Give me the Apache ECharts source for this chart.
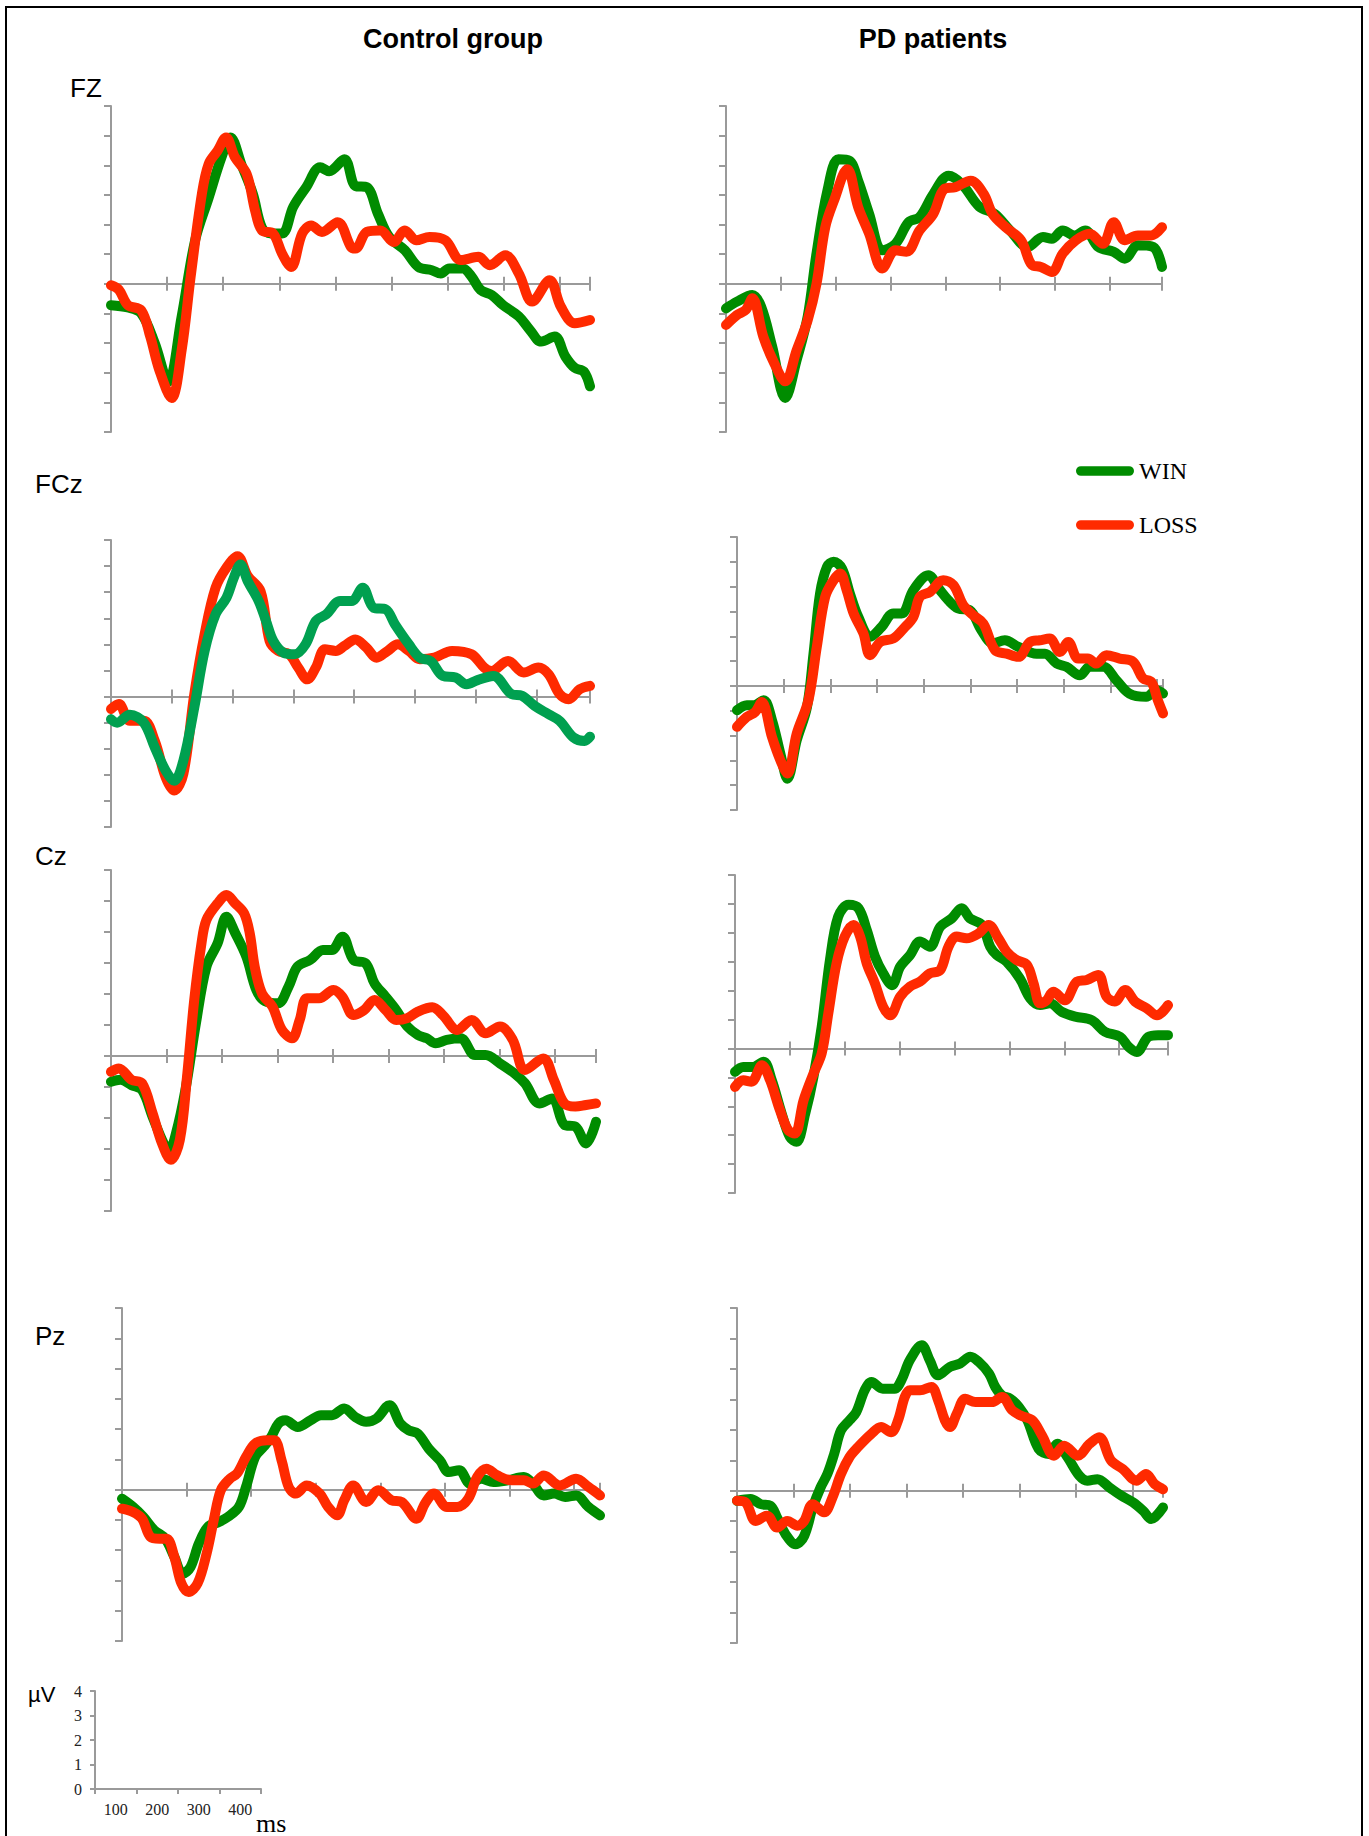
<!DOCTYPE html>
<html><head><meta charset="utf-8">
<script src="https://cdn.jsdelivr.net/npm/echarts@6/dist/echarts.min.js"></script>
<style>html,body{margin:0;padding:0;background:#fff}#c{width:1369px;height:1836px}</style>
</head><body><div id="c"></div>
<script>
// ---- Data: [time (ms), amplitude (µV)] ----
const fzCtrlWin = [[0,-0.72],[30,-0.8],[54,-1.0],[78,-2.0],[102,-3.3],[126,-1.1],[150,1.47],[174,2.9],[197,4.27],[213,4.94],[233,4.0],[253,3.03],[269,1.9],[285,1.7],[305,1.7],[325,2.6],[348,3.26],[373,3.93],[389,3.8],[416,4.2],[436,3.3],[456,3.26],[476,2.36],[496,1.58],[524,1.13],[548,0.57],[572,0.46],[588,0.35],[603,0.52],[627,0.52],[643,0.24],[659,-0.21],[679,-0.38],[699,-0.72],[727,-1.1],[747,-1.56],[767,-1.95],[791,-1.78],[810,-2.45],[827,-2.84],[843,-2.96],[854,-3.46]];
const fzCtrlLoss = [[0,-0.05],[14,-0.2],[30,-0.72],[54,-0.9],[70,-1.78],[86,-2.9],[108,-3.85],[126,-2.23],[142,0.24],[162,3.03],[174,4.04],[190,4.49],[205,4.94],[221,4.27],[242,3.7],[257,2.47],[269,1.8],[289,1.7],[305,1.02],[321,0.57],[341,1.7],[357,1.97],[376,1.75],[404,2.08],[428,1.24],[436,1.19],[456,1.75],[480,1.8],[504,1.41],[524,1.8],[544,1.47],[568,1.58],[596,1.47],[624,0.8],[655,0.91],[675,0.63],[703,0.96],[727,0.35],[751,-0.6],[782,0.12],[802,-0.77],[827,-1.33],[854,-1.22]];
const fzPdWin = [[0,-0.83],[20,-0.6],[48,-0.38],[64,-0.77],[84,-2.1],[108,-3.85],[129,-2.56],[149,-1.1],[165,1.02],[185,3.15],[205,4.2],[225,4.15],[241,3.48],[261,2.36],[285,1.13],[309,1.35],[333,2.08],[353,2.25],[378,3.03],[406,3.65],[430,3.37],[462,2.6],[490,2.36],[518,1.8],[550,1.24],[578,1.58],[594,1.52],[614,1.8],[635,1.63],[655,1.8],[679,1.24],[707,1.08],[727,0.85],[751,1.3],[779,1.24],[795,0.57]];
const fzPdLoss = [[0,-1.39],[20,-1.05],[36,-0.88],[48,-0.49],[68,-1.78],[88,-2.68],[108,-3.29],[129,-2.23],[149,-1.22],[165,0],[181,1.91],[197,2.81],[221,3.87],[241,2.59],[261,1.69],[285,0.52],[309,1.13],[329,1.08],[353,1.8],[378,2.36],[398,3.2],[418,3.26],[446,3.48],[470,3.03],[486,2.36],[510,1.91],[538,1.47],[558,0.63],[574,0.57],[594,0.4],[614,1.02],[638,1.47],[663,1.69],[687,1.35],[707,2.08],[727,1.47],[751,1.63],[775,1.63],[795,1.91]];
const fczCtrlWin = [[0,-0.87],[10,-1.0],[31,-0.7],[54,-1.0],[72,-1.95],[90,-2.84],[104,-3.23],[119,-2.46],[137,-0.42],[154,1.75],[172,3.15],[190,3.79],[202,4.55],[213,5.06],[225,4.42],[243,3.66],[255,2.9],[267,2.13],[284,1.68],[302,1.62],[320,2.0],[337,2.9],[354,3.15],[377,3.66],[396,3.66],[414,4.17],[432,3.4],[452,3.34],[467,2.77],[490,2.0],[508,1.49],[526,1.36],[546,0.79],[567,0.73],[585,0.47],[603,0.63],[629,0.79],[659,0.09],[676,0.03],[697,-0.36],[720,-0.68],[738,-0.93],[761,-1.57],[779,-1.7],[788,-1.54]];
const fczCtrlLoss = [[0,-0.48],[13,-0.29],[31,-0.93],[54,-0.93],[72,-1.7],[90,-3.1],[104,-3.6],[119,-2.97],[137,0.09],[154,2.39],[172,4.17],[190,4.94],[208,5.38],[225,4.62],[246,4.04],[261,2.13],[275,1.75],[293,1.62],[308,1.11],[323,0.66],[337,1.11],[352,1.81],[370,1.75],[384,1.94],[402,2.19],[420,1.88],[437,1.49],[455,1.75],[472,2.0],[490,1.75],[508,1.43],[532,1.49],[561,1.75],[593,1.62],[614,1.11],[626,0.98],[653,1.36],[679,0.92],[703,1.11],[720,0.85],[738,0.09],[753,-0.1],[771,0.28],[788,0.41]];
const fczPdWin = [[0,-0.98],[21,-0.78],[36,-0.78],[57,-0.58],[75,-1.38],[93,-2.73],[108,-3.74],[128,-2.19],[150,-0.85],[164,1.3],[178,3.72],[193,4.8],[207,5.0],[225,4.73],[242,3.72],[260,2.78],[285,1.98],[310,2.38],[335,2.92],[353,2.92],[378,3.86],[410,4.46],[435,3.86],[453,3.45],[474,3.12],[499,3.05],[524,2.24],[549,1.71],[574,1.84],[603,1.57],[642,1.3],[660,1.3],[685,0.9],[706,0.77],[735,0.43],[756,0.77],[785,0.77],[813,0.23],[841,-0.31],[877,-0.44],[899,-0.17],[913,-0.31]];
const fczPdLoss = [[0,-1.65],[21,-1.25],[39,-1.05],[53,-0.65],[75,-2.06],[93,-3.0],[108,-3.53],[128,-1.92],[153,-0.58],[171,1.57],[189,3.59],[207,4.26],[221,4.53],[235,3.86],[250,2.92],[271,2.11],[285,1.24],[307,1.77],[335,1.91],[357,2.31],[378,2.78],[392,3.59],[414,3.79],[442,4.26],[464,4.06],[485,3.25],[506,2.85],[528,2.51],[553,1.44],[578,1.3],[603,1.17],[628,1.77],[649,1.84],[670,1.91],[692,1.37],[710,1.77],[731,1.1],[752,1.1],[770,0.9],[792,1.24],[820,1.1],[849,0.97],[870,0.3],[888,0.16],[902,-0.58],[913,-1.11]];
const czCtrlWin = [[0,-0.83],[17,-0.77],[37,-0.94],[56,-1.1],[75,-1.96],[95,-2.82],[105,-3.03],[117,-2.5],[134,-1.1],[153,1.05],[172,2.88],[192,3.63],[208,4.49],[224,3.96],[244,3.2],[262,2.13],[278,1.76],[301,1.7],[320,2.24],[336,2.88],[359,3.1],[382,3.42],[398,3.42],[417,3.85],[437,3.1],[459,2.99],[475,2.34],[495,1.91],[514,1.48],[534,0.95],[553,0.68],[569,0.57],[585,0.41],[605,0.52],[630,0.57],[656,0.03],[675,0.03],[701,-0.24],[727,-0.56],[746,-0.88],[772,-1.53],[795,-1.37],[817,-2.22],[837,-2.28],[856,-2.82],[874,-2.12]];
const czCtrlLoss = [[0,-0.51],[14,-0.4],[37,-0.77],[56,-0.88],[75,-1.85],[92,-2.82],[108,-3.35],[124,-2.71],[137,-0.67],[150,1.81],[163,3.63],[172,4.39],[192,4.92],[208,5.19],[224,4.92],[240,4.6],[250,3.96],[259,2.88],[272,2.02],[291,1.59],[308,0.84],[326,0.57],[340,1.16],[353,1.86],[375,1.86],[401,2.13],[417,1.91],[437,1.32],[456,1.48],[475,1.81],[495,1.48],[514,1.16],[534,1.22],[553,1.43],[579,1.57],[598,1.32],[624,0.84],[650,1.16],[675,0.73],[701,0.95],[724,0.52],[746,-0.45],[779,-0.08],[798,-0.77],[817,-1.53],[837,-1.63],[856,-1.58],[874,-1.53]];
const czPdWin = [[0,-0.81],[15,-0.64],[33,-0.64],[52,-0.46],[67,-1.1],[85,-2.25],[100,-3.06],[112,-3.23],[128,-2.25],[143,-0.98],[158,0.75],[173,3.06],[188,4.56],[207,4.97],[225,4.85],[240,4.1],[255,3.18],[270,2.6],[286,2.19],[301,2.83],[319,3.23],[337,3.7],[355,3.52],[374,4.21],[395,4.5],[413,4.85],[428,4.5],[450,4.27],[465,3.52],[477,3.23],[495,3.0],[519,2.42],[538,1.73],[556,1.5],[574,1.56],[595,1.27],[620,1.1],[650,0.98],[674,0.58],[702,0.4],[717,0.06],[732,-0.12],[753,0.4],[771,0.46],[789,0.46]];
const czPdLoss = [[0,-1.33],[15,-1.1],[30,-1.15],[49,-0.58],[64,-1.1],[82,-2.14],[97,-2.83],[109,-2.94],[125,-1.79],[143,-0.87],[158,-0.17],[170,1.21],[185,2.94],[200,3.87],[216,4.27],[228,3.87],[240,2.94],[255,2.25],[270,1.44],[283,1.15],[301,1.79],[319,2.14],[337,2.31],[355,2.6],[374,2.71],[389,3.52],[404,3.87],[422,3.81],[444,3.98],[462,4.27],[480,3.81],[495,3.35],[513,3.06],[532,2.89],[544,2.25],[556,1.56],[568,1.67],[580,1.96],[601,1.67],[623,2.31],[641,2.37],[662,2.54],[677,1.79],[692,1.62],[711,2.02],[729,1.62],[750,1.39],[769,1.15],[789,1.5]];
const pzCtrlWin = [[0,-0.3],[17,-0.57],[33,-0.9],[50,-1.34],[67,-1.62],[81,-2.22],[94,-2.78],[106,-2.56],[119,-1.78],[133,-1.23],[150,-1.07],[164,-0.9],[181,-0.57],[192,0.09],[206,1.08],[219,1.41],[231,1.74],[242,2.18],[253,2.29],[272,2.07],[292,2.29],[308,2.46],[325,2.46],[344,2.68],[361,2.4],[378,2.24],[394,2.35],[414,2.79],[431,2.18],[444,1.96],[458,1.85],[475,1.35],[492,0.97],[506,0.58],[522,0.64],[539,0.2],[556,0.36],[575,0.25],[597,0.31],[622,0.42],[636,0.2],[653,-0.19],[669,-0.13],[686,-0.24],[703,-0.19],[722,-0.57],[740,-0.85]];
const pzCtrlLoss = [[0,-0.63],[17,-0.74],[31,-0.96],[44,-1.56],[58,-1.62],[69,-1.62],[81,-2.22],[92,-3.1],[103,-3.38],[117,-3.1],[131,-2.11],[142,-1.01],[153,-0.02],[167,0.36],[178,0.53],[192,1.08],[206,1.52],[225,1.63],[236,1.63],[247,0.97],[258,0.09],[269,-0.13],[286,0.14],[306,-0.13],[319,-0.57],[333,-0.85],[344,-0.35],[358,0.14],[378,-0.41],[397,-0.02],[417,-0.35],[433,-0.41],[456,-0.96],[469,-0.46],[483,-0.13],[503,-0.57],[519,-0.57],[536,-0.3],[550,0.42],[564,0.69],[581,0.47],[603,0.31],[622,0.31],[636,0.2],[653,0.47],[678,0.14],[703,0.36],[722,0.09],[740,-0.19]];
const pzPdWin = [[0,-0.33],[24,-0.27],[42,-0.44],[59,-0.49],[71,-0.88],[86,-1.43],[104,-1.76],[119,-1.48],[134,-0.55],[148,0.11],[160,0.55],[172,1.21],[184,1.98],[199,2.31],[211,2.58],[226,3.3],[238,3.57],[258,3.35],[279,3.35],[291,3.63],[306,4.29],[327,4.78],[341,4.29],[356,3.79],[377,4.07],[395,4.18],[413,4.4],[428,4.23],[446,3.85],[457,3.41],[469,3.13],[484,3.02],[499,2.75],[514,2.31],[534,1.37],[552,1.21],[567,1.54],[585,1.1],[606,0.49],[620,0.33],[638,0.38],[659,0.11],[680,-0.16],[701,-0.38],[719,-0.66],[733,-0.93],[754,-0.55]];
const pzPdLoss = [[0,-0.33],[15,-0.38],[33,-0.99],[53,-0.82],[71,-1.21],[89,-0.99],[107,-1.15],[119,-0.99],[134,-0.44],[154,-0.71],[169,-0.22],[184,0.55],[199,1.1],[214,1.43],[238,1.87],[255,2.09],[273,1.92],[285,2.31],[297,3.08],[306,3.3],[324,3.3],[344,3.41],[356,2.97],[368,2.31],[377,2.09],[389,2.53],[404,3.02],[422,2.91],[451,2.91],[469,3.08],[487,2.64],[502,2.47],[523,2.31],[540,1.81],[561,1.15],[579,1.48],[603,1.15],[624,1.54],[641,1.76],[662,0.99],[683,0.71],[707,0.33],[724,0.55],[739,0.22],[754,0.05]];

const scaleMsLabels = ['100','200','300','400'];
const seriesNames = ['WIN','LOSS'];
const groupTitles = ['Control group','PD patients'];
const electrodeLabels = ['FZ','FCz','Cz','Pz'];

// ---- Styles / layout ----
const GREEN = '#008c00', TEAL = '#00a050', RED = '#ff2a00', AX = '#9a9a9a';
const panels = [
  {win:fzCtrlWin,  loss:fzCtrlLoss,  xMax:854, left:111, top:106, width:479, height:326, winColor:GREEN, winOnTop:false},
  {win:fzPdWin,    loss:fzPdLoss,    xMax:795, left:726, top:106, width:436, height:326, winColor:GREEN, winOnTop:false},
  {win:fczCtrlWin, loss:fczCtrlLoss, xMax:788, left:111, top:540, width:479, height:287, winColor:TEAL,  winOnTop:true},
  {win:fczPdWin,   loss:fczPdLoss,   xMax:913, left:737, top:537, width:426, height:273, winColor:GREEN, winOnTop:false},
  {win:czCtrlWin,  loss:czCtrlLoss,  xMax:874, left:111, top:870, width:485, height:341, winColor:GREEN, winOnTop:false},
  {win:czPdWin,    loss:czPdLoss,    xMax:789, left:735, top:875, width:433, height:318, winColor:GREEN, winOnTop:false},
  {win:pzCtrlWin,  loss:pzCtrlLoss,  xMax:740, left:122, top:1308, width:478, height:333, winColor:GREEN, winOnTop:false},
  {win:pzPdWin,    loss:pzPdLoss,    xMax:754, left:737, top:1308, width:426, height:335, winColor:GREEN, winOnTop:false}
];

const grids = [], xAxes = [], yAxes = [], series = [];
const axStyle = {color:AX, width:2};
panels.forEach((p, i) => {
  grids.push({left:p.left, top:p.top, width:p.width, height:p.height, outerBoundsMode:'none', containLabel:false});
  const common = {gridIndex:i, type:'value', min:0, max:p.xMax, interval:100,
    axisLabel:{show:false}, splitLine:{show:false}};
  // bottom axis: ticks pointing down, lies on main y axis zero
  xAxes.push(Object.assign({}, common, {position:'bottom',
    axisLine:{show:true, onZero:true, onZeroAxisIndex:2*i, lineStyle:axStyle},
    axisTick:{show:true, length:7, lineStyle:axStyle}}));
  // top axis: ticks pointing up, lies on helper y axis zero
  xAxes.push(Object.assign({}, common, {position:'top',
    axisLine:{show:true, onZero:true, onZeroAxisIndex:2*i+1, lineStyle:axStyle},
    axisTick:{show:true, length:7, lineStyle:axStyle}}));
  yAxes.push({gridIndex:i, type:'value', min:-5, max:6, interval:1, position:'left',
    axisLine:{show:true, onZero:false, lineStyle:axStyle},
    axisTick:{show:true, length:7, lineStyle:axStyle},
    axisLabel:{show:false}, splitLine:{show:false}});
  yAxes.push({gridIndex:i, type:'value', min:-5, max:6, interval:1, position:'right',
    axisLine:{show:false, onZero:false}, axisTick:{show:false},
    axisLabel:{show:false}, splitLine:{show:false}});
  const mk = (name, data, color, z) => ({
    name, type:'line', xAxisIndex:2*i, yAxisIndex:2*i, data, showSymbol:false, symbol:'none',
    smooth:0.35, z, color, itemStyle:{color},
    lineStyle:{color, width:10, cap:'round', join:'round'}, silent:true
  });
  series.push(mk(seriesNames[0], p.win, p.winColor, p.winOnTop ? 3 : 2));
  series.push(mk(seriesNames[1], p.loss, RED, p.winOnTop ? 2 : 3));
});

// scale legend (µV / ms)
const si = panels.length;
grids.push({left:95, top:1691, width:166, height:98, outerBoundsMode:'none', containLabel:false});
xAxes.push({gridIndex:si, type:'category', data:scaleMsLabels, boundaryGap:true,
  axisLine:{show:true, lineStyle:axStyle},
  axisTick:{show:true, length:5, alignWithLabel:false, lineStyle:axStyle},
  axisLabel:{show:true, margin:12, color:'#222', fontFamily:'Liberation Serif', fontSize:16},
  splitLine:{show:false}});
yAxes.push({gridIndex:si, type:'value', min:0, max:4, interval:1,
  axisLine:{show:true, lineStyle:axStyle},
  axisTick:{show:true, length:5, lineStyle:axStyle},
  axisLabel:{show:true, margin:13, color:'#222', fontFamily:'Liberation Serif', fontSize:16},
  splitLine:{show:false}});

const txt = (text, x, y, font, align) => ({type:'text', x, y, silent:true,
  style:{text, font, fill:'#000', textAlign:align || 'left', textVerticalAlign:'middle'}});

const option = {
  animation:false,
  backgroundColor:'#fff',
  grid:grids, xAxis:xAxes, yAxis:yAxes, series,
  legend:{data:seriesNames, orient:'vertical', left:1071, top:454, itemWidth:58, itemHeight:10,
    itemGap:30, selectedMode:false, icon:'path://M5,0 H55 A5,5 0 0 1 55,10 H5 A5,5 0 0 1 5,0 Z',
    textStyle:{fontFamily:'Liberation Serif', fontSize:24, color:'#000'}},
  graphic:[
    {type:'rect', shape:{x:6, y:7, width:1356, height:1860}, style:{fill:'none', stroke:'#000', lineWidth:2}, silent:true, z:-10},
    txt(groupTitles[0], 453, 39, 'bold 27px "Liberation Sans"', 'center'),
    txt(groupTitles[1], 933, 39, 'bold 27px "Liberation Sans"', 'center'),
    txt(electrodeLabels[0], 70, 88, '26px "Liberation Sans"'),
    txt(electrodeLabels[1], 35, 484, '26px "Liberation Sans"'),
    txt(electrodeLabels[2], 35, 856, '26px "Liberation Sans"'),
    txt(electrodeLabels[3], 35, 1336, '26px "Liberation Sans"'),
    txt('µV', 28, 1694, '22px "Liberation Sans"'),
    txt('ms', 256, 1823, '26px "Liberation Serif"')
  ]
};
const chart = echarts.init(document.getElementById('c'), null, {renderer:'svg', width:1369, height:1836});
chart.setOption(option);
</script></body></html>
